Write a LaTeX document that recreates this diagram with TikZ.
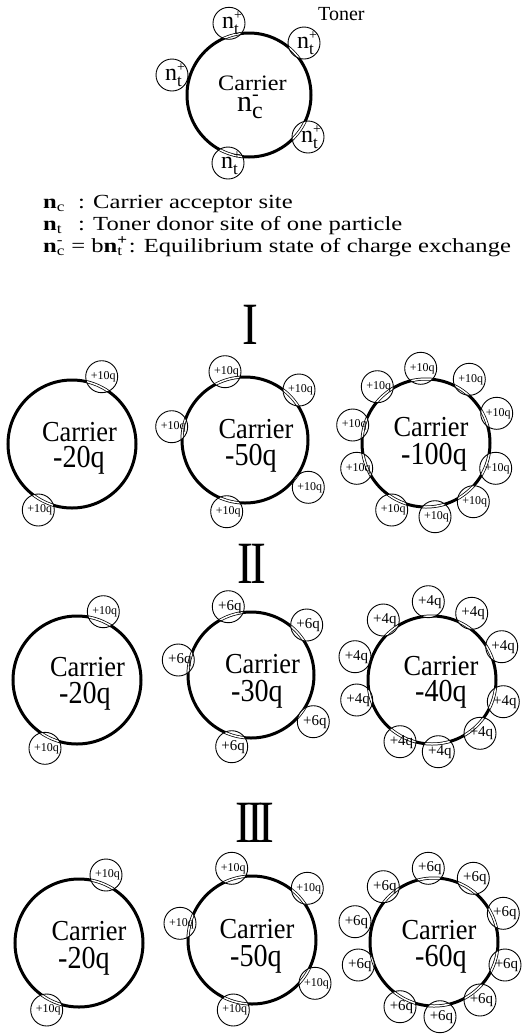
\documentclass[tikz,border=0pt]{standalone}
\usepackage{fontspec}
\setmainfont{Liberation Serif}
\usepackage{graphicx}

\tikzset{
  carrier/.style={circle, draw, line width=3pt, minimum size={#1}, inner sep=0pt},
  tonerc/.style={circle, draw, line width=0.9pt, minimum size=32pt, inner sep=0pt},
  lab10/.style={inner sep=0pt, font=\fontsize{12}{12}\selectfont},
  lab6/.style={inner sep=0pt, font=\fontsize{15}{15}\selectfont},
  labn/.style={inner sep=0pt},
  cartext/.style={anchor=base, inner sep=0pt, font=\fontsize{29}{29}\selectfont},
  carval/.style={anchor=base, inner sep=0pt, font=\fontsize{32}{32}\selectfont},
  legend/.style={anchor=base west, inner sep=0pt, font=\fontsize{20}{20}\selectfont},
  numeral/.style={anchor=base, inner sep=0pt, font=\fontsize{60}{60}\selectfont},
}

\newcommand\ntp{{\fontsize{24}{24}\selectfont n\rlap{\raisebox{9.3pt}{\fontsize{14}{14}\selectfont +}}\raisebox{-5.7pt}{\fontsize{17}{17}\selectfont t}}}
\newcommand\ncm{{\fontsize{30}{30}\selectfont n\rlap{\raisebox{11.7pt}{\fontsize{20}{20}\selectfont -}}\raisebox{-6.3pt}{\fontsize{24}{24}\selectfont c}}}
\newcommand\supsub[2]{\rlap{\textsuperscript{#1}}\textsubscript{#2}}

\newcommand\SetCar[4]{%
  \def\carX{#2}\def\carY{#3}\def\carR{#4}%
  \node[carrier={2*#4pt}] (#1) at (#2,#3) {};
}
\newcommand\Toner[5]{%
  \begin{scope}
    \clip (#2,#3) circle (16pt);
    \fill[white] (#2,#3) circle (16pt);
    \draw[line width=3pt] (\carX,\carY) circle (\carR pt);
    \draw[white, line width=1.5pt] (\carX,\carY) circle (\carR pt);
  \end{scope}
  \node[tonerc] (#1) at (#2,#3) {};
  \node[#4] (#1t) at ([xshift=1.5pt]#1.center) {#5};
}
\newcommand\CarLab[7]{%
  \node[cartext] (#1c) at (#2,#3) {\scalebox{0.91}[1]{Carrier}};
  \node[carval] (#1v) at (#4,#5) {\scalebox{0.88}[1]{#6}};
}

\begin{document}
\begin{tikzpicture}[x=1pt, y=-1pt]
\fill[white] (0,0) rectangle (524,1034);
\useasboundingbox (0,0) rectangle (524,1034);

% ---------- top diagram ----------
\SetCar{T}{249}{95}{62}
\Toner{T1}{229}{23.3}{labn}{\ntp}
\Toner{T2}{304}{43}{labn}{\ntp}
\Toner{T3}{172}{75}{labn}{\ntp}
\Toner{T4}{308}{137}{labn}{\ntp}
\Toner{T5}{228}{163}{labn}{\ntp}
\node[anchor=base, inner sep=0pt, font=\fontsize{22}{22}\selectfont] (Tc) at (252.5,90.7) {\scalebox{1.1}[1]{Carrier}};
\node[anchor=base, inner sep=0pt] (Tn) at (250,111.7) {\ncm};
\node[legend] (Tlab) at (318,20) {Toner};

% ---------- legend ----------
\node[legend] (L1a) at (43,208) {\scalebox{1.23}[1]{\textbf{n}\textsubscript{c}}};
\node[legend] (L1b) at (78,208) {\scalebox{1.23}[1]{: Carrier acceptor site}};
\node[legend] (L2a) at (43,230.5) {\scalebox{1.23}[1]{\textbf{n}\textsubscript{t}}};
\node[legend] (L2b) at (78,230.5) {\scalebox{1.23}[1]{: Toner donor site of one particle}};
\node[legend] (L3) at (43,252) {\scalebox{1.23}[1]{\textbf{n}\supsub{-}{c} = b\textbf{n}\supsub{\textbf{+}}{t} : Equilibrium state of charge exchange}};

% ---------- numerals ----------
\node[numeral] (R1) at (250,344) {\scalebox{0.79}[1]{I}};
\node[numeral] (R2) at (251.5,583) {\scalebox{0.79}[1]{I\kern-3.5pt I}};
\node[numeral] (R3) at (255,842) {\scalebox{0.79}[1]{I\kern-5.2pt I\kern-5.2pt I}};

% ---------- row I ----------
\SetCar{A1}{72}{444}{64}
\Toner{A1a}{101.7}{376.7}{lab10}{+10q}
\Toner{A1b}{38.3}{510}{lab10}{+10q}
\CarLab{A1}{79.5}{441}{79}{467.7}{-20q}{}

\SetCar{A2}{245}{440}{63}
\Toner{A2a}{225}{371.7}{lab10}{+10q}
\Toner{A2b}{299}{390}{lab10}{+10q}
\Toner{A2c}{171.7}{426.7}{lab10}{+10q}
\Toner{A2d}{308.3}{487.3}{lab10}{+10q}
\Toner{A2e}{226.7}{511.7}{lab10}{+10q}
\CarLab{A2}{256}{438.3}{251}{465}{-50q}{}

\SetCar{A3}{426}{443}{64}
\Toner{A3a}{420.7}{368.3}{lab10}{+10q}
\Toner{A3b}{469.3}{379.3}{lab10}{+10q}
\Toner{A3c}{377.3}{386.7}{lab10}{+10q}
\Toner{A3d}{496.7}{413.3}{lab10}{+10q}
\Toner{A3e}{352.7}{425}{lab10}{+10q}
\Toner{A3f}{356.7}{468.3}{lab10}{+10q}
\Toner{A3g}{495.7}{468.3}{lab10}{+10q}
\Toner{A3h}{391.7}{510}{lab10}{+10q}
\Toner{A3i}{473.3}{501.7}{lab10}{+10q}
\Toner{A3j}{435}{516.7}{lab10}{+10q}
\CarLab{A3}{431}{436}{434}{464}{-100q}{}

% ---------- row II ----------
\SetCar{B1}{77}{680}{64}
\Toner{B1a}{103.3}{611.7}{lab10}{+10q}
\Toner{B1b}{45}{748.3}{lab10}{+10q}
\CarLab{B1}{87.5}{676.7}{85}{703.3}{-20q}{}

\SetCar{B2}{251}{675}{63}
\Toner{B2a}{228.3}{606.7}{lab6}{+6q}
\Toner{B2b}{306.7}{625}{lab6}{+6q}
\Toner{B2c}{178.3}{660}{lab6}{+6q}
\Toner{B2d}{313.3}{721.7}{lab6}{+6q}
\Toner{B2e}{231.7}{746.7}{lab6}{+6q}
\CarLab{B2}{262.5}{673.3}{257}{701.7}{-30q}{}

\SetCar{B3}{432}{680}{64}
\Toner{B3a}{428.3}{601.7}{lab6}{+4q}
\Toner{B3b}{471.7}{613.3}{lab6}{+4q}
\Toner{B3c}{383.3}{620}{lab6}{+4q}
\Toner{B3d}{501.7}{646.7}{lab6}{+4q}
\Toner{B3e}{355}{656.7}{lab6}{+4q}
\Toner{B3f}{356.7}{700}{lab6}{+4q}
\Toner{B3g}{503.3}{701.7}{lab6}{+4q}
\Toner{B3h}{400}{741.7}{lab6}{+4q}
\Toner{B3i}{480}{733.3}{lab6}{+4q}
\Toner{B3j}{438.3}{751.7}{lab6}{+4q}
\CarLab{B3}{441}{675}{441}{701.7}{-40q}{}

% ---------- row III ----------
\SetCar{C1}{79}{943}{64}
\Toner{C1a}{106}{875}{lab10}{+10q}
\Toner{C1b}{46.7}{1010}{lab10}{+10q}
\CarLab{C1}{89}{940}{84}{968.3}{-20q}{}

\SetCar{C2}{252}{940}{64}
\Toner{C2a}{231.7}{868.3}{lab10}{+10q}
\Toner{C2b}{307.3}{888.3}{lab10}{+10q}
\Toner{C2c}{180}{923.3}{lab10}{+10q}
\Toner{C2d}{315}{983.3}{lab10}{+10q}
\Toner{C2e}{233.3}{1010}{lab10}{+10q}
\CarLab{C2}{257}{938.3}{256}{966.7}{-50q}{}

\SetCar{C3}{434}{942}{64}
\Toner{C3a}{428.3}{868.3}{lab6}{+6q}
\Toner{C3b}{473.3}{878.3}{lab6}{+6q}
\Toner{C3c}{383.3}{886.7}{lab6}{+6q}
\Toner{C3d}{503.3}{913.3}{lab6}{+6q}
\Toner{C3e}{355}{921.7}{lab6}{+6q}
\Toner{C3f}{358.3}{965}{lab6}{+6q}
\Toner{C3g}{505}{965}{lab6}{+6q}
\Toner{C3h}{400}{1006.7}{lab6}{+6q}
\Toner{C3i}{480}{1000}{lab6}{+6q}
\Toner{C3j}{440}{1016.7}{lab6}{+6q}
\CarLab{C3}{439}{939.3}{441}{966.7}{-60q}{}
\end{tikzpicture}
\end{document}
